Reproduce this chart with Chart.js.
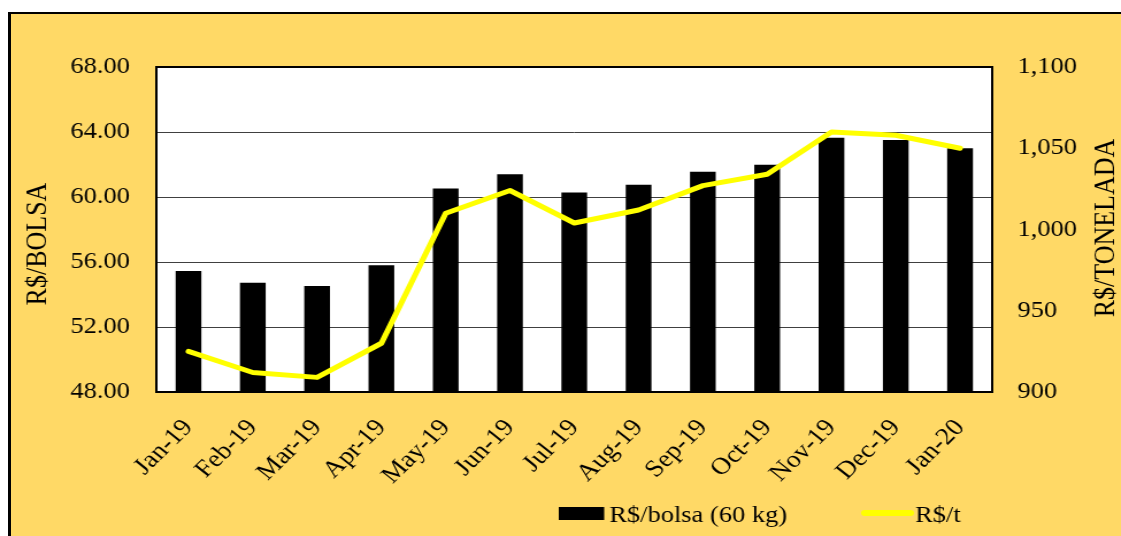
<!DOCTYPE html>
<html><head><meta charset="utf-8">
<script src="https://cdn.jsdelivr.net/npm/chart.js@4.4.0/dist/chart.umd.min.js"></script>
<style>
html,body{margin:0;padding:0;background:#fff;width:1121px;height:536px;overflow:hidden;}
#box{position:absolute;left:8px;top:12px;width:1200px;height:600px;background:#FFD966;border-left:3px solid #000;border-top:2px solid #000;}
#c{position:absolute;left:0;top:0;width:975px;height:536px;transform:scaleX(1.1497);transform-origin:0 0;}
</style></head><body>
<div id="box"></div>
<canvas id="c" width="975" height="536"></canvas>
<script>
const months = ['Jan-19','Feb-19','Mar-19','Apr-19','May-19','Jun-19','Jul-19','Aug-19','Sep-19','Oct-19','Nov-19','Dec-19','Jan-20'];
const bolsaValues = [55.45, 54.73, 54.52, 55.80, 60.53, 61.40, 60.27, 60.76, 61.56, 61.99, 63.65, 63.51, 63.00];
const tonValues = [925, 912, 909, 930, 1010, 1024, 1004, 1012, 1027, 1034, 1060, 1058, 1050];
const seriesNames = ['R$/bolsa (60 kg)', 'R$/t'];
const leftTitle = 'R$/BOLSA';
const rightTitle = 'R$/TONELADA';

const FONT = '"Liberation Serif","Times New Roman",serif';

const decor = {
  id: 'decor',
  beforeDraw(chart) {
    const {ctx, chartArea: a} = chart;
    ctx.save();
    ctx.fillStyle = '#fff';
    ctx.fillRect(a.left, a.top, a.right - a.left, a.bottom - a.top);
    ctx.restore();
  },
  afterDatasetsDraw(chart) {
    const {ctx, chartArea: a} = chart;
    ctx.save();
    ctx.strokeStyle = '#000';
    ctx.lineWidth = 2;
    ctx.strokeRect(a.left, a.top, a.right - a.left, a.bottom - a.top);
    ctx.restore();
  },
  afterDraw(chart) {
    const {ctx} = chart;
    const ds = chart.data.datasets;
    ctx.save();
    ctx.fillStyle = '#000';
    ctx.font = '26px ' + FONT;
    ctx.textAlign = 'center';
    ctx.textBaseline = 'middle';
    ctx.save(); ctx.translate(33, 244); ctx.rotate(-Math.PI/2); ctx.fillText(leftTitle, 0, 0); ctx.restore();
    ctx.save(); ctx.translate(962, 228); ctx.rotate(-Math.PI/2); ctx.fillText(rightTitle, 0, 0); ctx.restore();
    // legend
    ctx.font = '23px ' + FONT;
    ctx.textAlign = 'left';
    ctx.textBaseline = 'alphabetic';
    ctx.fillStyle = ds[0].backgroundColor;
    ctx.fillRect(486, 507, 39.5, 13);
    ctx.fillStyle = '#000';
    ctx.fillText(ds[0].label, 530, 522);
    ctx.strokeStyle = ds[1].borderColor;
    ctx.lineWidth = 6;
    ctx.lineCap = 'round';
    ctx.beginPath(); ctx.moveTo(752, 513); ctx.lineTo(792, 513); ctx.stroke();
    ctx.fillText(ds[1].label, 796, 522);
    ctx.restore();
  }
};

new Chart(document.getElementById('c'), {
  data: {
    labels: months,
    datasets: [
      {type: 'bar', label: seriesNames[0], data: bolsaValues, yAxisID: 'y', backgroundColor: '#000', borderWidth: 0, barPercentage: 0.40, categoryPercentage: 1, order: 1},
      {type: 'line', label: seriesNames[1], data: tonValues, yAxisID: 'y1', borderColor: '#FFFF00', borderWidth: 5, pointRadius: 0, tension: 0, borderCapStyle: 'round', borderJoinStyle: 'round', order: 0}
    ]
  },
  options: {
    responsive: false,
    animation: false,
    devicePixelRatio: 1,
    layout: {padding: {top: 67, left: 0, right: 0, bottom: 0}},
    plugins: {legend: {display: false}, tooltip: {enabled: false}},
    scales: {
      x: {
        grid: {display: false, drawTicks: false},
        border: {display: false},
        ticks: {color: '#000', font: {family: FONT, size: 24}, minRotation: 48, maxRotation: 48, padding: 22, autoSkip: false},
        afterFit(s) { s.height = 144; }
      },
      y: {
        position: 'left', min: 48, max: 68,
        grid: {color: '#404040', lineWidth: 1, drawTicks: false},
        border: {display: false},
        ticks: {stepSize: 4, color: '#000', font: {family: FONT, size: 23}, padding: 23, callback: v => v.toFixed(2)},
        afterFit(s) { s.width = 136; }
      },
      y1: {
        position: 'right', min: 900, max: 1100,
        grid: {display: false, drawTicks: false},
        border: {display: false},
        ticks: {stepSize: 50, color: '#000', font: {family: FONT, size: 23}, padding: 22, callback: v => v.toLocaleString('en-US')},
        afterFit(s) { s.width = 112; }
      }
    }
  },
  plugins: [decor]
});
</script>
</body></html>
